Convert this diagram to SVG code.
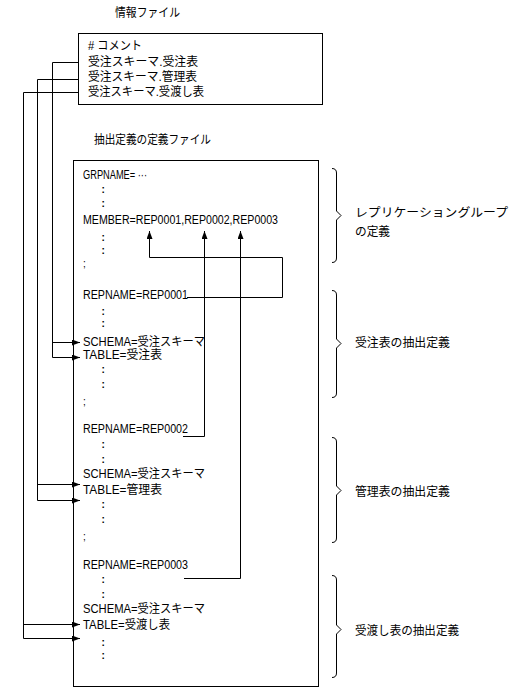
<svg xmlns="http://www.w3.org/2000/svg" width="521" height="693" viewBox="0 0 521 693">
<defs>
<style>
text{font-family:"Liberation Sans","Noto Sans CJK JP",sans-serif;font-size:12px;fill:#000}
.c{font-weight:bold;font-size:10px}
.box{fill:#fff;stroke:#000;stroke-width:1}
.ln{fill:none;stroke:#000;stroke-width:1}
</style>
<marker id="ah" viewBox="0 0 8 6" refX="8" refY="3" markerWidth="8" markerHeight="6" markerUnits="userSpaceOnUse" orient="auto">
<path d="M0,0 L8,3 L0,6 Z" fill="#000"/>
</marker>
</defs>
<rect width="521" height="693" fill="#fff"/>

<g id="info-file">
<text x="115" y="17" textLength="65" lengthAdjust="spacingAndGlyphs">情報ファイル</text>
<rect class="box" x="78.5" y="33.5" width="244" height="71"/>
<text x="88" y="50" textLength="54" lengthAdjust="spacingAndGlyphs"># コメント</text>
<text x="88" y="66" textLength="110" lengthAdjust="spacingAndGlyphs">受注スキーマ.受注表</text>
<text x="88" y="81" textLength="109" lengthAdjust="spacingAndGlyphs">受注スキーマ.管理表</text>
<text x="88" y="96" textLength="116" lengthAdjust="spacingAndGlyphs">受注スキーマ.受渡し表</text>
</g>

<g id="def-file">
<text x="94" y="144" textLength="117" lengthAdjust="spacingAndGlyphs">抽出定義の定義ファイル</text>
<rect class="box" x="73.5" y="160.5" width="245" height="526"/>
<text x="83" y="179" textLength="64" lengthAdjust="spacingAndGlyphs">GRPNAME= ···</text>
<text class="c" x="101.5" y="193">:</text>
<text class="c" x="101.5" y="207">:</text>
<text x="83" y="224" textLength="195" lengthAdjust="spacingAndGlyphs">MEMBER=REP0001,REP0002,REP0003</text>
<text class="c" x="101.5" y="241">:</text>
<text class="c" x="101.5" y="254">:</text>
<text x="83" y="267" style="font-size:10px">;</text>

<text x="83" y="299" textLength="105" lengthAdjust="spacingAndGlyphs">REPNAME=REP0001</text>
<text class="c" x="101.5" y="315">:</text>
<text class="c" x="101.5" y="327">:</text>
<text x="83" y="346" textLength="122" lengthAdjust="spacingAndGlyphs">SCHEMA=受注スキーマ</text>
<text x="83" y="359" textLength="79" lengthAdjust="spacingAndGlyphs">TABLE=受注表</text>
<text class="c" x="101.5" y="373">:</text>
<text class="c" x="101.5" y="388">:</text>
<text x="83" y="405" style="font-size:10px">;</text>

<text x="83" y="433" textLength="105" lengthAdjust="spacingAndGlyphs">REPNAME=REP0002</text>
<text class="c" x="101.5" y="448">:</text>
<text class="c" x="101.5" y="463">:</text>
<text x="83" y="478" textLength="122" lengthAdjust="spacingAndGlyphs">SCHEMA=受注スキーマ</text>
<text x="83" y="494" textLength="79" lengthAdjust="spacingAndGlyphs">TABLE=管理表</text>
<text class="c" x="101.5" y="508">:</text>
<text class="c" x="101.5" y="523">:</text>
<text x="83" y="540" style="font-size:10px">;</text>

<text x="83" y="569" textLength="105" lengthAdjust="spacingAndGlyphs">REPNAME=REP0003</text>
<text class="c" x="101.5" y="583">:</text>
<text class="c" x="101.5" y="598">:</text>
<text x="83" y="613" textLength="122" lengthAdjust="spacingAndGlyphs">SCHEMA=受注スキーマ</text>
<text x="83" y="629" textLength="87" lengthAdjust="spacingAndGlyphs">TABLE=受渡し表</text>
<text class="c" x="101.5" y="646">:</text>
<text class="c" x="101.5" y="659">:</text>
</g>

<g id="brace-group">
<path class="ln" d="M332,168.5 Q336.5,168.5 336.5,173 L336.5,211 L341,215.5 L336.5,220 L336.5,258 Q336.5,262.5 332,262.5"/>
<text x="355" y="217" textLength="153" lengthAdjust="spacingAndGlyphs">レプリケーショングループ</text>
<text x="355" y="236" textLength="35" lengthAdjust="spacingAndGlyphs">の定義</text>
</g>
<g id="brace-juchu">
<path class="ln" d="M332,290.5 Q336.5,290.5 336.5,295 L336.5,339 L341,343.5 L336.5,348 L336.5,393 Q336.5,397.5 332,397.5"/>
<text x="355" y="347" textLength="95" lengthAdjust="spacingAndGlyphs">受注表の抽出定義</text>
</g>
<g id="brace-kanri">
<path class="ln" d="M332,437.5 Q336.5,437.5 336.5,442 L336.5,486 L341,490.5 L336.5,495 L336.5,538 Q336.5,542.5 332,542.5"/>
<text x="355" y="496" textLength="95" lengthAdjust="spacingAndGlyphs">管理表の抽出定義</text>
</g>
<g id="brace-ukewatashi">
<path class="ln" d="M332,575.5 Q336.5,575.5 336.5,580 L336.5,625 L341,629.5 L336.5,634 L336.5,673 Q336.5,677.5 332,677.5"/>
<text x="355" y="635" textLength="104" lengthAdjust="spacingAndGlyphs">受渡し表の抽出定義</text>
</g>

<g id="connectors">
<polyline class="ln" points="78,62.5 52.5,62.5 52.5,357.5 80,357.5" marker-end="url(#ah)"/>
<line class="ln" x1="52.5" y1="342.5" x2="80" y2="342.5" marker-end="url(#ah)"/>
<polyline class="ln" points="78,79.5 37.5,79.5 37.5,500.5 80,500.5" marker-end="url(#ah)"/>
<line class="ln" x1="37.5" y1="484.5" x2="80" y2="484.5" marker-end="url(#ah)"/>
<polyline class="ln" points="78,92.5 23.5,92.5 23.5,638.5 80,638.5" marker-end="url(#ah)"/>
<line class="ln" x1="23.5" y1="624.5" x2="80" y2="624.5" marker-end="url(#ah)"/>
<polyline class="ln" points="187,297.5 282.5,297.5 282.5,257.5 149.5,257.5 149.5,231" marker-end="url(#ah)"/>
<polyline class="ln" points="183,436.5 204.5,436.5 204.5,231" marker-end="url(#ah)"/>
<polyline class="ln" points="184,578.5 240.5,578.5 240.5,231" marker-end="url(#ah)"/>
</g>
</svg>
